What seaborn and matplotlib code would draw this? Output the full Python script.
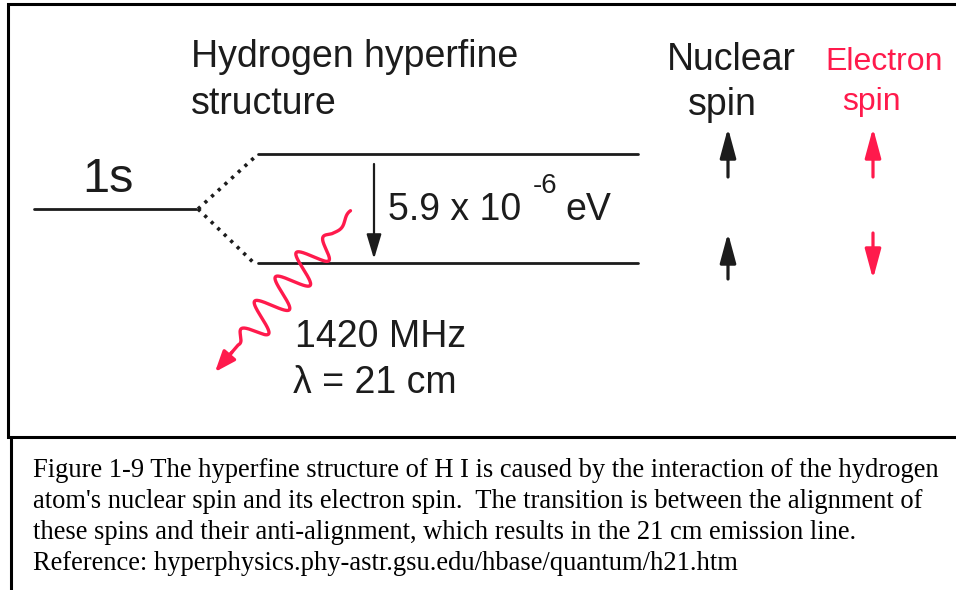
import numpy as np
import pandas as pd
import matplotlib
matplotlib.use("Agg")
import matplotlib.pyplot as plt
import seaborn as sns

# energy levels (pixel coordinates of the original diagram, y grows downward)
LEVEL_NAMES = ["1s", "upper", "lower"]
LEVEL_X0 = [34, 258, 258]
LEVEL_X1 = [196, 638, 638]
LEVEL_Y = [209, 154, 263]

# split point and dotted connectors
SPLIT_X = 198
CONNECT_X = 256

# energy gap arrow
GAP_X = 374
GAP_Y = [164, 259]

# spin arrows: column x, row top/bottom, direction (+1 up, -1 down)
NUCLEAR_X = 728
ELECTRON_X = 873
NUCLEAR_DIR = [1, 1]
ELECTRON_DIR = [1, -1]
SPIN_ROW_TOP = [128, 233]
SPIN_ROW_BOTTOM = [177, 279]

# photon path
PHOTON_START = (352, 212)
PHOTON_END = (215, 372)
PHOTON_PERIOD = 32
PHOTON_AMP = 16
PHOTON_PHASE = 11

CAPTION = [
    "Figure 1-9 The hyperfine structure of H I is caused by the interaction of the hydrogen",
    "atom's nuclear spin and its electron spin.  The transition is between the alignment of",
    "these spins and their anti-alignment, which results in the 21 cm emission line.",
    "Reference: hyperphysics.phy-astr.gsu.edu/hbase/quantum/h21.htm",
]
CAPTION_Y = [477, 508, 539, 570]

INK = "#1c1c1c"
RED = "#ff1a4c"

sns.set_theme(style="white")
plt.rcParams["font.family"] = ["Liberation Sans", "DejaVu Sans"]

fig = plt.figure(figsize=(9.56, 5.90), dpi=100)
ax = fig.add_axes([0, 0, 1, 1])

# energy levels via seaborn
levels = pd.DataFrame({
    "level": np.repeat(LEVEL_NAMES, 2),
    "x": np.ravel(np.column_stack([LEVEL_X0, LEVEL_X1])),
    "y": np.repeat(LEVEL_Y, 2),
})
sns.lineplot(data=levels, x="x", y="y", units="level", estimator=None,
             color=INK, lw=2.0, ax=ax, sort=False)
ax.set_xlim(0, 956)
ax.set_ylim(590, 0)
ax.axis("off")

# frames
ax.plot([956, 8, 8, 956], [4, 4, 437, 437], color="black", lw=2.2, solid_joinstyle="miter")
ax.plot([11, 11], [437, 590], color="black", lw=2.2)

# dotted split lines
for y in LEVEL_Y[1:]:
    ax.plot([SPLIT_X, CONNECT_X], [LEVEL_Y[0], y + 2],
            color=INK, lw=2.6, linestyle=(0, (0.9, 1.6)), dash_capstyle="butt")

# energy gap arrow
ax.annotate("", xy=(GAP_X, GAP_Y[1]), xytext=(GAP_X, GAP_Y[0]),
            arrowprops=dict(arrowstyle="-|>,head_length=1.0,head_width=0.3",
                            color=INK, lw=1.6, mutation_scale=15, shrinkA=0, shrinkB=0))


def spin_arrow(x, top, bottom, direction, color):
    tail, tip = (bottom, top) if direction > 0 else (top, bottom)
    ax.annotate("", xy=(x, tip), xytext=(x, tail),
                arrowprops=dict(arrowstyle="-|>,head_length=1.0,head_width=0.27",
                                color=color, lw=2.3, mutation_scale=18,
                                shrinkA=0, shrinkB=0))


for top, bottom, d in zip(SPIN_ROW_TOP, SPIN_ROW_BOTTOM, NUCLEAR_DIR):
    spin_arrow(NUCLEAR_X, top, bottom, d, INK)
for top, bottom, d in zip(SPIN_ROW_TOP, SPIN_ROW_BOTTOM, ELECTRON_DIR):
    spin_arrow(ELECTRON_X, top, bottom, d, RED)

# photon wiggle
p0 = np.array(PHOTON_START, dtype=float)
p1 = np.array(PHOTON_END, dtype=float)
axis_vec = p1 - p0
length = np.hypot(*axis_vec)
u = axis_vec / length
n = np.array([u[1], -u[0]])
s = np.linspace(0, length - 14, 600)
envelope = np.clip((s - 25) / 30, 0.15, 1) * np.clip((175 - s) / 25, 0, 1)
wave = PHOTON_AMP * envelope * np.sin(2 * np.pi * (s - PHOTON_PHASE) / PHOTON_PERIOD)
path = p0 + np.outer(s, u) + np.outer(wave, n)
ax.plot(path[:, 0], path[:, 1], color=RED, lw=2.4, solid_capstyle="round",
        solid_joinstyle="round")
ax.annotate("", xy=tuple(p1), xytext=tuple(p0 + (length - 26) * u),
            arrowprops=dict(arrowstyle="-|>,head_length=0.9,head_width=0.35",
                            color=RED, lw=2.4, mutation_scale=14, shrinkA=0, shrinkB=0))

# labels
ax.text(191, 67, "Hydrogen hyperfine", fontsize=27, color=INK, va="baseline")
ax.text(191, 114, "structure", fontsize=27, color=INK, va="baseline")
ax.text(108, 192, "1s", fontsize=35, color=INK, ha="center", va="baseline")
ax.text(731, 70, "Nuclear", fontsize=27, color=INK, ha="center", va="baseline")
ax.text(722, 115, "spin", fontsize=27, color=INK, ha="center", va="baseline")
ax.text(884, 70, "Electron", fontsize=23, color=RED, ha="center", va="baseline")
ax.text(871, 110, "spin", fontsize=23, color=RED, ha="center", va="baseline")
ax.text(388, 220, "5.9 x 10", fontsize=27, color=INK, va="baseline")
ax.text(533, 193, "-6", fontsize=20, color=INK, va="baseline")
ax.text(565, 220, "eV", fontsize=27, color=INK, va="baseline")
ax.text(295, 347, "1420 MHz", fontsize=27, color=INK, va="baseline")
ax.text(293, 393, "\u03bb = 21 cm", fontsize=27, color=INK, va="baseline")

for line, y in zip(CAPTION, CAPTION_Y):
    ax.text(33, y, line, fontsize=19.1, color="black", va="baseline",
            family=["Liberation Serif", "DejaVu Serif"])

fig.savefig("out.png", dpi=100)
